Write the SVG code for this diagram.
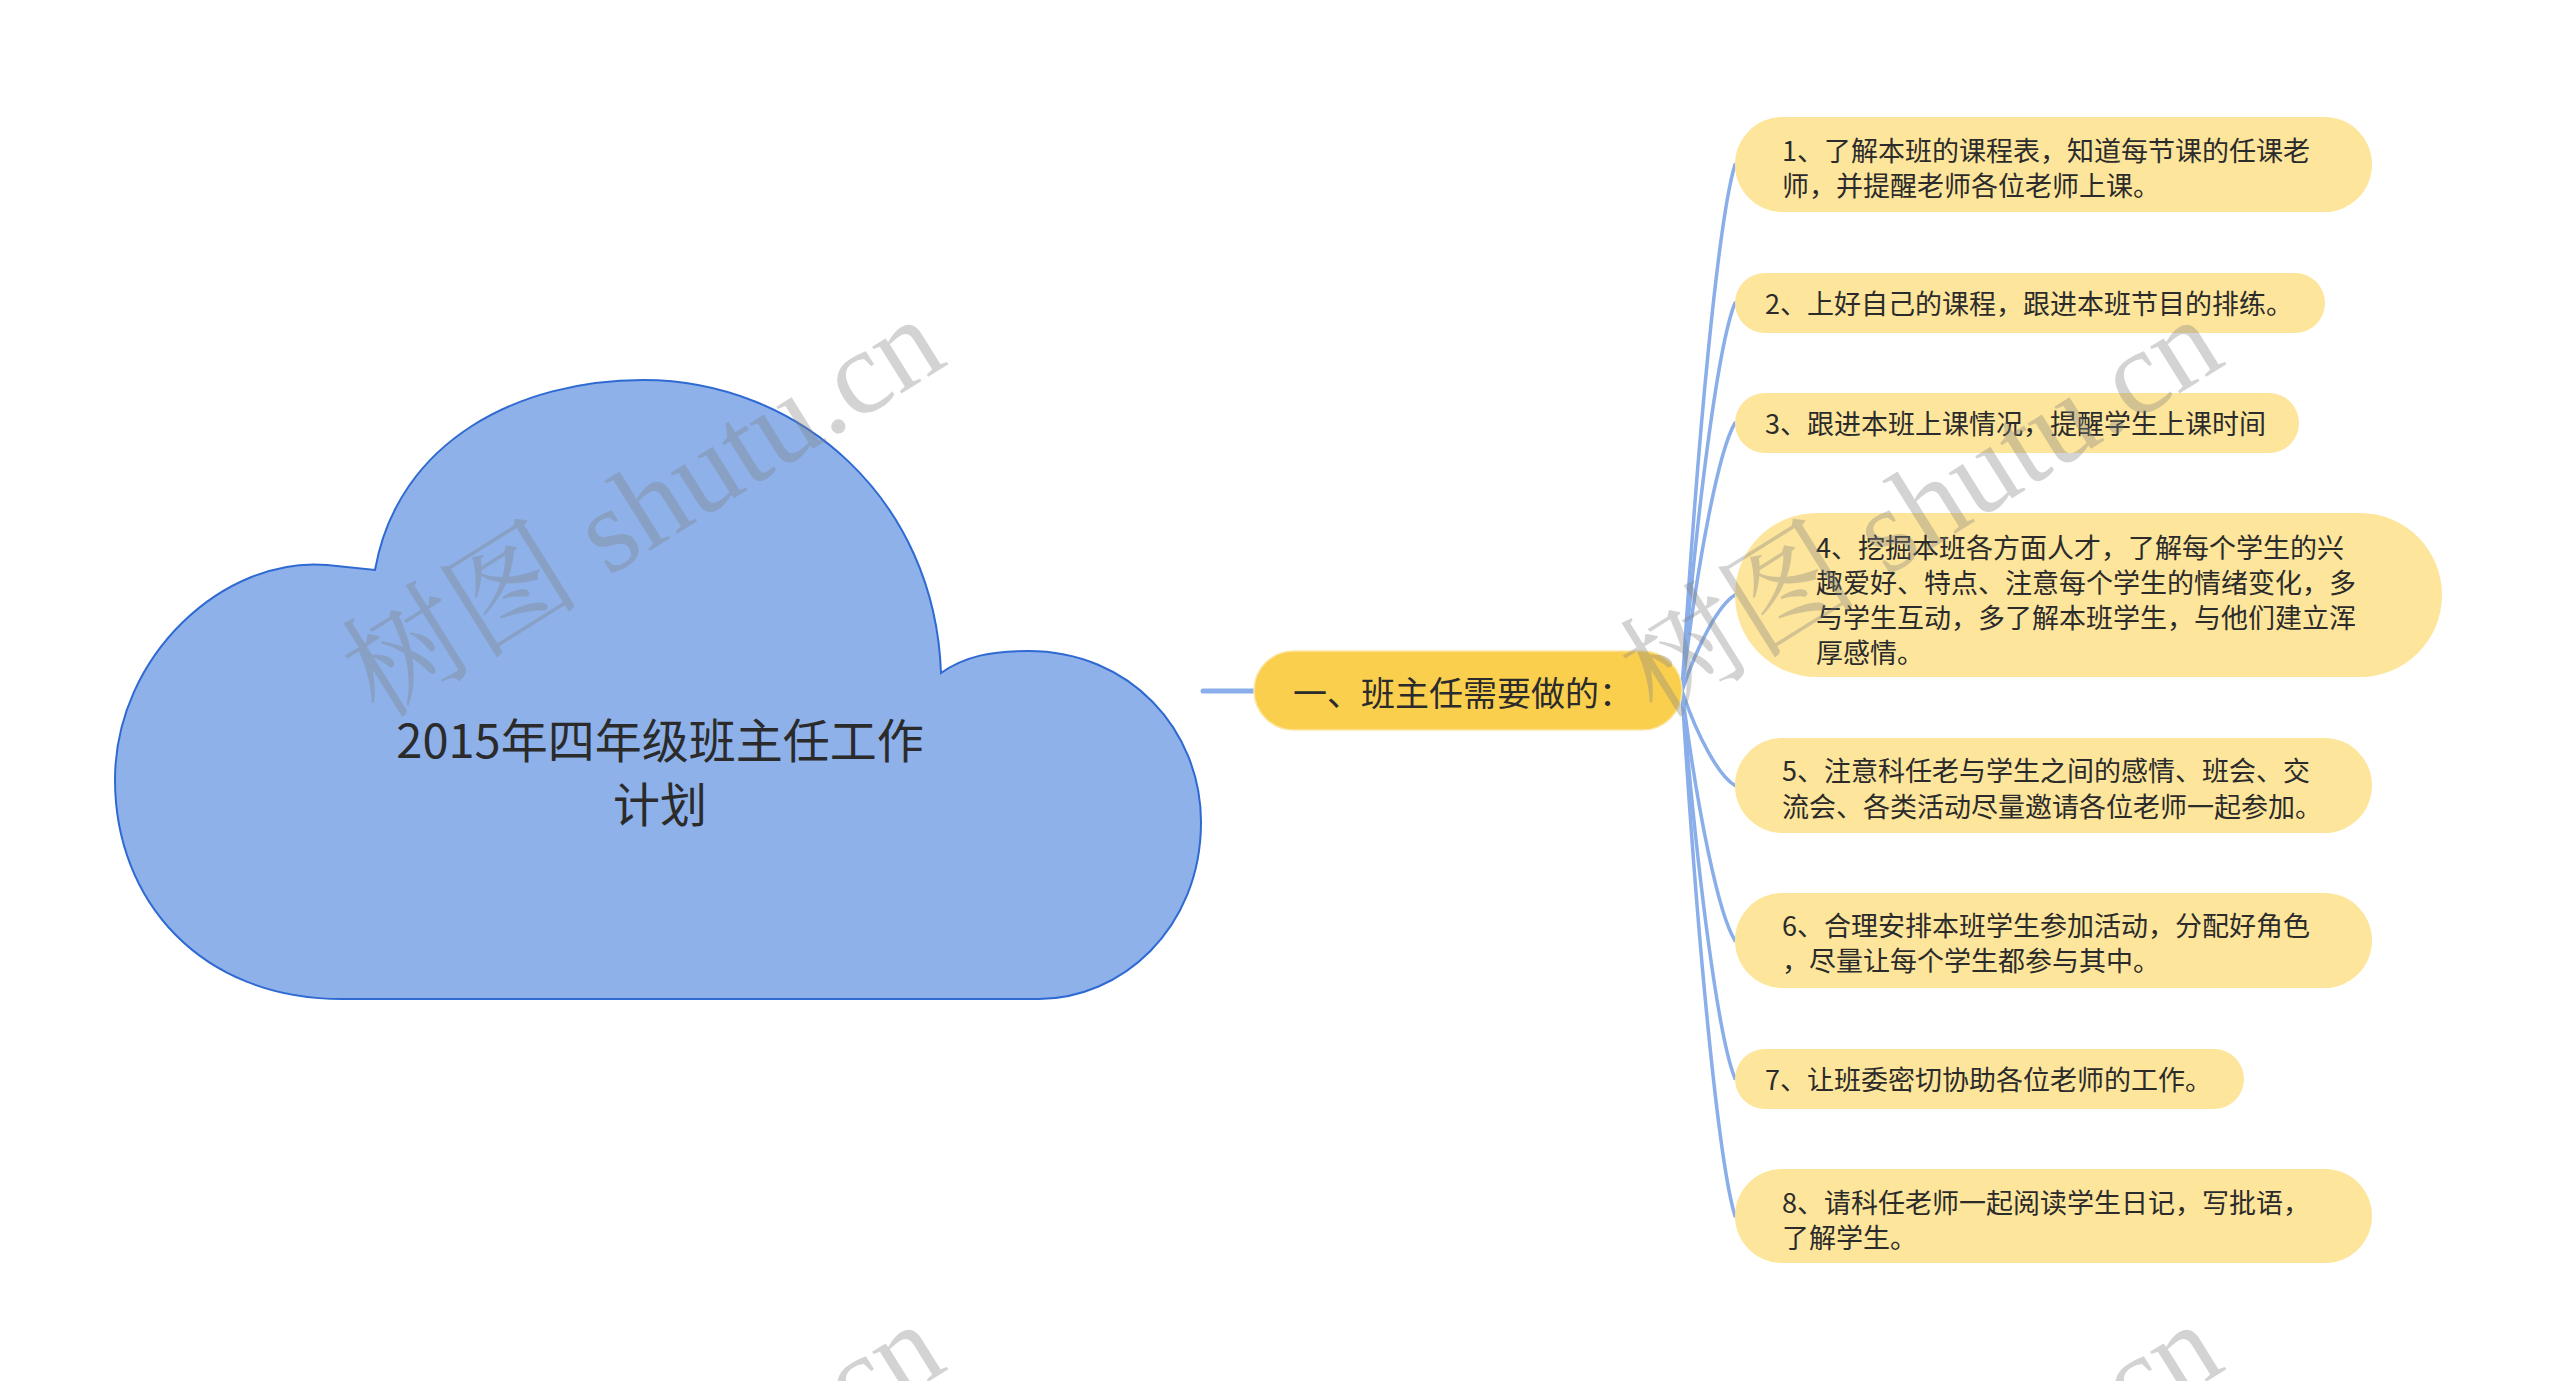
<svg xmlns="http://www.w3.org/2000/svg" width="2560" height="1381" viewBox="0 0 2560 1381">
<style>
.cjk{font-family:"Noto Sans CJK SC","Noto Sans",sans-serif;fill:#2b2b2b}
.leaf rect{fill:#FDE59B}
.leaf text{font-size:27px;dominant-baseline:central}
.conn{fill:none;stroke:#89AEE9;stroke-width:3.5;stroke-linecap:round}
.wm{font-family:"Liberation Serif","Noto Serif CJK SC","Noto Sans CJK SC",serif;font-size:120px;fill:#808080;fill-opacity:0.35}
</style>
<rect width="2560" height="1381" fill="#ffffff"/>
<g id="connectors">
<path class="conn" d="M1203 691 L1254 691" style="stroke-width:5"/>
<path class="conn" d="M1682 691 C1698 427.75 1719 217.15 1735 164.5"/>
<path class="conn" d="M1682 691 C1698 497 1719 341.8 1735 303"/>
<path class="conn" d="M1682 691 C1698 557 1719 449.8 1735 423"/>
<path class="conn" d="M1682 691 C1698 643 1719 604.6 1735 595"/>
<path class="conn" d="M1682 691 C1698 738.25 1719 776.05 1735 785.5"/>
<path class="conn" d="M1682 691 C1698 815.75 1719 915.55 1735 940.5"/>
<path class="conn" d="M1682 691 C1698 884.75 1719 1039.75 1735 1078.5"/>
<path class="conn" d="M1682 691 C1698 953.5 1719 1163.5 1735 1216"/>
</g>
<g id="root">
<path d="M342 999 C200 999 115 900 115 780 C115 655 225 556 327 565 L375 570 C398 440 520 380 643 380 C800 380 935 500 941 673 C965 656 992 651 1028 651 C1130 651 1201 730 1201 822 C1201 930 1120 999 1039 999 Z" fill="#8EB1EA" stroke="#2E6AD2" stroke-width="2"/>
<text class="cjk" x="660" y="737" font-size="47" text-anchor="middle" dominant-baseline="central">2015年四年级班主任工作</text>
<text class="cjk" x="660" y="801" font-size="47" text-anchor="middle" dominant-baseline="central">计划</text>
</g>
<g id="branch">
<rect x="1254" y="651" width="428" height="79" rx="39.5" fill="#FBCF4E" stroke="#FCE7A8" stroke-width="1.5"/>
<text class="cjk" x="1293" y="691" font-size="34" dominant-baseline="central">一、班主任需要做的：</text>
</g>
<g id="leaf1" class="leaf">
<rect x="1735" y="117" width="637" height="95" rx="47.5"/>
<text class="cjk" x="1782" y="149">1、了解本班的课程表，知道每节课的任课老</text>
<text class="cjk" x="1782" y="184">师，并提醒老师各位老师上课。</text>
</g>
<g id="leaf2" class="leaf">
<rect x="1735" y="273" width="590" height="60" rx="30"/>
<text class="cjk" x="1765" y="302">2、上好自己的课程，跟进本班节目的排练。</text>
</g>
<g id="leaf3" class="leaf">
<rect x="1735" y="393" width="564" height="60" rx="30"/>
<text class="cjk" x="1765" y="422">3、跟进本班上课情况，提醒学生上课时间</text>
</g>
<g id="leaf4" class="leaf">
<rect x="1735" y="513" width="707" height="164" rx="82"/>
<text class="cjk" x="1816" y="546">4、挖掘本班各方面人才，了解每个学生的兴</text>
<text class="cjk" x="1816" y="581">趣爱好、特点、注意每个学生的情绪变化，多</text>
<text class="cjk" x="1816" y="616">与学生互动，多了解本班学生，与他们建立浑</text>
<text class="cjk" x="1816" y="651">厚感情。</text>
</g>
<g id="leaf5" class="leaf">
<rect x="1735" y="738" width="637" height="95" rx="47.5"/>
<text class="cjk" x="1782" y="769">5、注意科任老与学生之间的感情、班会、交</text>
<text class="cjk" x="1782" y="805">流会、各类活动尽量邀请各位老师一起参加。</text>
</g>
<g id="leaf6" class="leaf">
<rect x="1735" y="893" width="637" height="95" rx="47.5"/>
<text class="cjk" x="1782" y="924">6、合理安排本班学生参加活动，分配好角色</text>
<text class="cjk" x="1782" y="959">，尽量让每个学生都参与其中。</text>
</g>
<g id="leaf7" class="leaf">
<rect x="1735" y="1049" width="509" height="60" rx="30"/>
<text class="cjk" x="1765" y="1078">7、让班委密切协助各位老师的工作。</text>
</g>
<g id="leaf8" class="leaf">
<rect x="1735" y="1169" width="637" height="94" rx="47"/>
<text class="cjk" x="1782" y="1201">8、请科任老师一起阅读学生日记，写批语，</text>
<text class="cjk" x="1782" y="1236">了解学生。</text>
</g>
<g id="watermarks">
<text class="wm" transform="translate(379 720) rotate(-32)">树图 shutu.cn</text>
<text class="wm" transform="translate(1657 720) rotate(-32)">树图 shutu.cn</text>
<text class="wm" transform="translate(379 1725) rotate(-32)">树图 shutu.cn</text>
<text class="wm" transform="translate(1657 1725) rotate(-32)">树图 shutu.cn</text>
</g>
</svg>
